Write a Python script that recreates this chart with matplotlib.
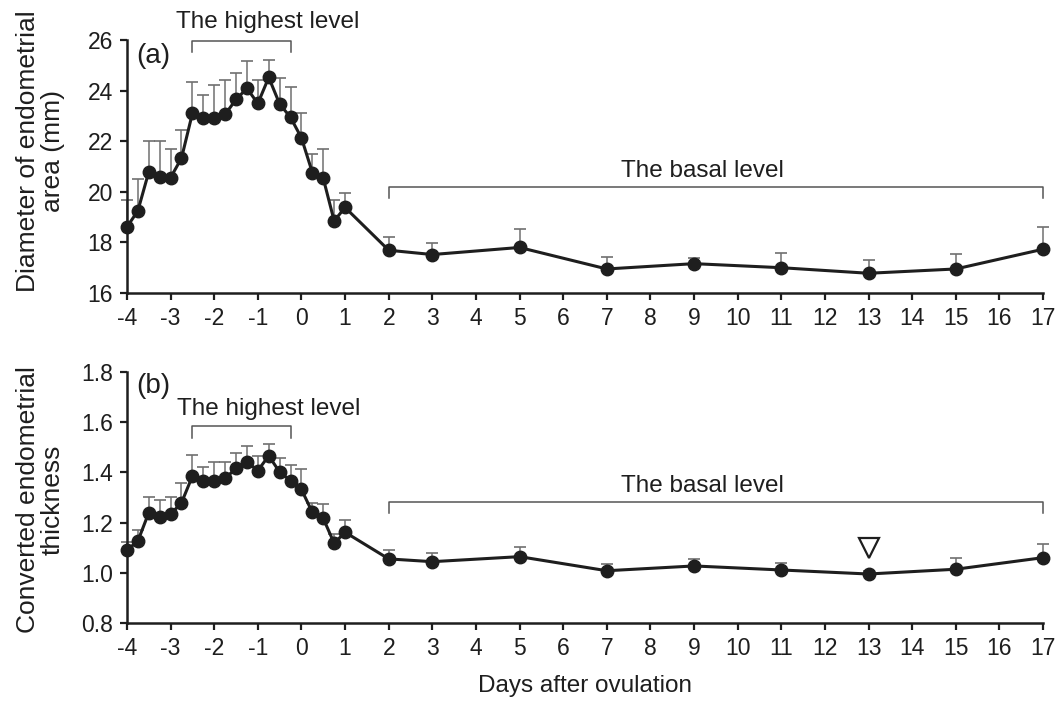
import numpy as np
import matplotlib
matplotlib.use("Agg")
import matplotlib.pyplot as plt

plt.rcParams['font.family'] = ['Liberation Sans', 'DejaVu Sans']
plt.rcParams['axes.unicode_minus'] = False

days = [-4, -3.75, -3.5, -3.25, -3, -2.75, -2.5, -2.25, -2, -1.75, -1.5, -1.25,
        -1, -0.75, -0.5, -0.25, 0, 0.25, 0.5, 0.75, 1, 2, 3, 5, 7, 9, 11, 13, 15, 17]

diam_mean = [18.61, 19.25, 20.79, 20.59, 20.56, 21.33, 23.10, 22.90, 22.90, 23.06,
             23.65, 24.09, 23.49, 24.52, 23.47, 22.94, 22.13, 20.76, 20.53, 18.85,
             19.38, 17.69, 17.52, 17.80, 16.95, 17.16, 17.00, 16.78, 16.95, 17.73]
diam_sd = [1.08, 1.25, 1.23, 1.40, 1.14, 1.13, 1.22, 0.92, 1.32, 1.34,
           1.03, 1.07, 0.94, 0.69, 1.04, 1.19, 0.99, 0.75, 1.17, 0.83,
           0.59, 0.51, 0.47, 0.72, 0.47, 0.24, 0.58, 0.54, 0.59, 0.87]

thick_mean = [1.091, 1.127, 1.240, 1.224, 1.234, 1.279, 1.385, 1.367, 1.367, 1.376,
              1.416, 1.442, 1.407, 1.466, 1.401, 1.367, 1.332, 1.241, 1.217, 1.118,
              1.162, 1.056, 1.045, 1.065, 1.009, 1.028, 1.012, 0.996, 1.015, 1.061]
thick_sd = [0.034, 0.044, 0.063, 0.066, 0.067, 0.080, 0.084, 0.053, 0.075, 0.066,
            0.059, 0.064, 0.058, 0.047, 0.055, 0.062, 0.080, 0.036, 0.057, 0.037,
            0.049, 0.034, 0.033, 0.037, 0.025, 0.029, 0.026, 0.010, 0.043, 0.054]

xticks = list(range(-4, 18))

fig = plt.figure(figsize=(10.59, 7.04), dpi=100)
ax1 = fig.add_axes([0.1199, 0.5838, 0.865, 0.3594])
ax2 = fig.add_axes([0.1199, 0.1146, 0.865, 0.3574])

ink = '#1e1e1e'


def draw(ax, mean, sd, ylim, yticks, fmt):
    x = np.array(days)
    m = np.array(mean)
    s = np.array(sd)
    ax.errorbar(x, m, yerr=[np.zeros_like(s), s], fmt='none', ecolor='#707070',
                elinewidth=1.1, capsize=4, capthick=1.2, zorder=2, clip_on=False)
    ax.plot(x, m, '-o', color=ink, lw=2.2, ms=9, zorder=3, clip_on=False)
    ax.set_xlim(-4, 17)
    ax.set_ylim(*ylim)
    ax.set_xticks(xticks)
    ax.set_yticks(yticks)
    ax.set_yticklabels([fmt % v for v in yticks])
    for side in ['top', 'right']:
        ax.spines[side].set_visible(False)
    for side in ['left', 'bottom']:
        ax.spines[side].set_linewidth(1.8)
        ax.spines[side].set_color(ink)
    ax.tick_params(direction='out', length=5, width=1.6, color=ink,
                   labelsize=16.5, labelcolor=ink, pad=5)


def bracket(ax, x0, x1, ylow, ytop, label, tx, ty):
    ax.plot([x0, x0, x1, x1], [ylow, ytop, ytop, ylow], color='#555555',
            lw=1.1, clip_on=False, zorder=4)
    ax.text(tx, ty, label, ha='center', va='baseline', fontsize=17.5, color=ink)


draw(ax1, diam_mean, diam_sd, (16, 26), [16, 18, 20, 22, 24, 26], '%d')
draw(ax2, thick_mean, thick_sd, (0.8, 1.8), [0.8, 1.0, 1.2, 1.4, 1.6, 1.8], '%.1f')

bracket(ax1, -2.5, -0.25, 25.53, 25.96, 'The highest level', -0.77, 26.49)
bracket(ax1, 2, 17, 19.75, 20.18, 'The basal level', 9.2, 20.58)
bracket(ax2, -2.5, -0.25, 1.538, 1.584, 'The highest level', -0.75, 1.628)
bracket(ax2, 2, 17, 1.237, 1.281, 'The basal level', 9.2, 1.32)

ax1.text(-3.78, 25.35, '(a)', ha='left', va='center', fontsize=20, color=ink)
ax2.text(-3.78, 1.743, '(b)', ha='left', va='center', fontsize=20, color=ink)

ax2.plot([13], [1.10], marker='v', ms=15, mfc='white', mec=ink, mew=1.6,
         linestyle='none', zorder=5)

ax1.set_ylabel('Diameter of endometrial\narea (mm)', fontsize=19, color=ink,
               linespacing=1.05)
ax2.set_ylabel('Converted endometrial\nthickness', fontsize=19, color=ink,
               linespacing=1.05)
ax1.yaxis.set_label_coords(-0.068, 0.56)
ax2.yaxis.set_label_coords(-0.068, 0.49)

ax2.set_xlabel('Days after ovulation', fontsize=17.5, color=ink, labelpad=11)

fig.savefig('out.png', dpi=100)
